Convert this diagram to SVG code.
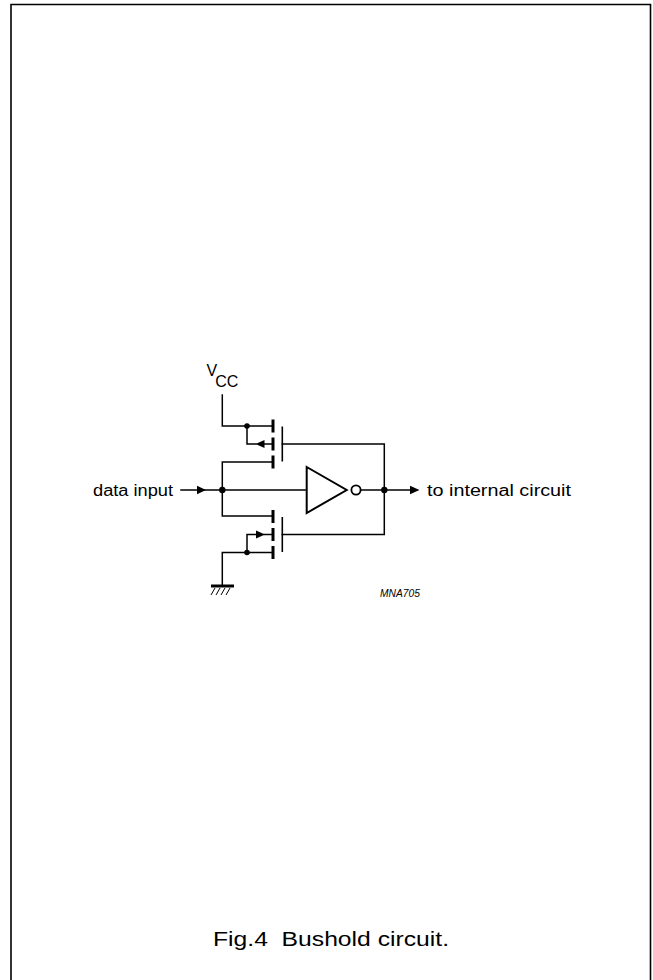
<svg xmlns="http://www.w3.org/2000/svg" width="653" height="980" viewBox="0 0 653 980">
<style>
.w{stroke:#000;stroke-width:1.5;fill:none;stroke-linecap:square}
.ch{stroke:#000;stroke-width:3;fill:none}
.gp{stroke:#000;stroke-width:1.6;fill:none}
.dot{fill:#000}
.ah{fill:#000}
.t{font-family:"Liberation Sans",Arial,sans-serif;fill:#000}
</style>
<rect width="653" height="980" fill="#fff"/>
<path d="M11 990 V4.5 H650.5 V990" fill="none" stroke="#000" stroke-width="1.6"/>

<g id="connectors">
  <path class="w" d="M181 490 H306.7"/>
  <path class="w" d="M360.6 490 H410"/>
  <path class="w" d="M222.3 395 V426 H272"/>
  <path class="w" d="M272 462 H222.3 V516 H272"/>
  <path class="w" d="M282.3 444 H384.3 V534.5 H282.3"/>
  <path class="w" d="M247 426 V444 H256"/>
  <path class="w" d="M264 444 H272"/>
  <path class="w" d="M272 552.5 H222.3 V586"/>
  <path class="w" d="M247 552.5 V534.5 H256"/>
  <path class="w" d="M264 534.5 H272"/>
</g>

<g id="input-arrow"><polygon class="ah" points="197,485.8 206,490 197,494.2"/></g>
<g id="output-arrow"><polygon class="ah" points="410,485.8 419.5,490 410,494.2"/></g>

<g id="junctions">
  <circle class="dot" cx="222.3" cy="490" r="3.2"/>
  <circle class="dot" cx="384.3" cy="490" r="3.2"/>
  <circle class="dot" cx="247" cy="426" r="2.8"/>
  <circle class="dot" cx="247" cy="552.5" r="2.8"/>
</g>

<g id="pmos">
  <path class="ch" d="M273 419.5 V432.5 M273 437.5 V450.5 M273 455.5 V468.5"/>
  <path class="gp" d="M282.3 426.5 V461.5"/>
  <polygon class="ah" points="264.5,440 255.5,444 264.5,448"/>
</g>

<g id="nmos">
  <path class="ch" d="M273 510 V523 M273 528 V541 M273 546 V559"/>
  <path class="gp" d="M282.3 517 V552"/>
  <polygon class="ah" points="256,530.5 265,534.5 256,538.5"/>
</g>

<g id="inverter">
  <polygon points="306.7,467 346.7,490 306.7,513" fill="#fff" stroke="#000" stroke-width="2"/>
  <circle cx="356" cy="490" r="4.6" fill="#fff" stroke="#000" stroke-width="1.8"/>
</g>

<g id="vcc">
  <text class="t" x="206.5" y="376" font-size="16">V<tspan dx="-2" dy="10.5">CC</tspan></text>
</g>

<g id="ground">
  <path d="M211 586 H234" stroke="#000" stroke-width="3"/>
  <path d="M215 588 L211 595 M220 588 L216 595 M225 588 L221 595 M230 588 L226 595" stroke="#000" stroke-width="1"/>
</g>

<g id="labels">
  <text class="t" x="93" y="495.5" font-size="16" textLength="80" lengthAdjust="spacingAndGlyphs">data input</text>
  <text class="t" x="427" y="495.5" font-size="16" textLength="144" lengthAdjust="spacingAndGlyphs">to internal circuit</text>
  <text class="t" x="380" y="597" font-size="11" font-style="italic" textLength="40" lengthAdjust="spacingAndGlyphs">MNA705</text>
  <text class="t" x="213" y="946" font-size="19.5" textLength="236" lengthAdjust="spacingAndGlyphs" xml:space="preserve">Fig.4  Bushold circuit.</text>
</g>
</svg>
